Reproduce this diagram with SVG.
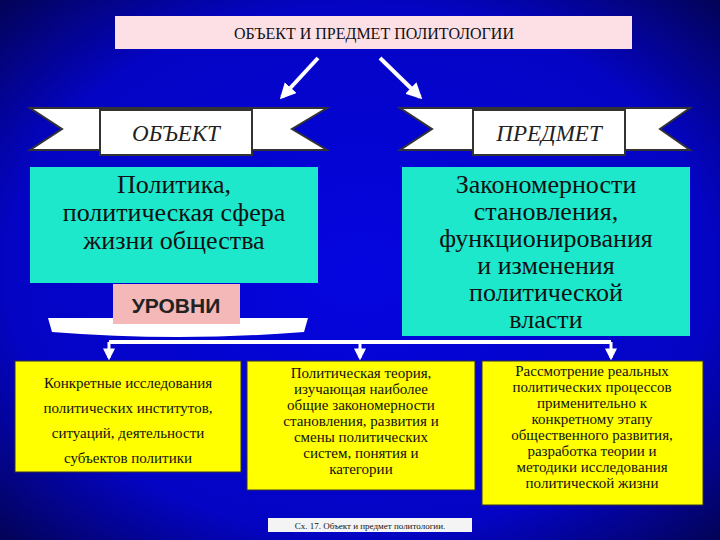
<svg xmlns="http://www.w3.org/2000/svg" width="720" height="540" viewBox="0 0 720 540">
<defs>
<radialGradient id="bg" cx="50%" cy="50%" r="70%">
<stop offset="0" stop-color="#0505e0"/><stop offset="0.7" stop-color="#0404c4"/><stop offset="1" stop-color="#03035a"/>
</radialGradient>
<marker id="ah" viewBox="0 0 10 10" refX="8" refY="5" markerWidth="4" markerHeight="4" orient="auto"><path d="M0,0L10,5L0,10z" fill="#fff"/></marker>
<style>
text{font-family:"Liberation Serif","DejaVu Serif",serif}
.s{text-anchor:middle;fill:#111}
.big{font-size:26px}
.sm{font-size:15px}
.cy{fill:#1ee8cc}
.yl{fill:#ffff00;stroke:#333;stroke-width:1}
.rib{fill:#fff;stroke:#333;stroke-width:2}
.lab{fill:#fff;stroke:#333;stroke-width:2}
.it{font-style:italic;font-size:23px;text-anchor:middle;fill:#222}
</style>
</defs>
<rect width="720" height="540" fill="url(#bg)"/>
<g id="title"><rect x="115" y="16" width="517" height="33" fill="#fde0e6"/><text class="s" x="374" y="39" font-size="16">ОБЪЕКТ И ПРЕДМЕТ ПОЛИТОЛОГИИ</text></g>
<g id="connectors" stroke="#fff" fill="none">
<line x1="318" y1="58" x2="282" y2="97" stroke-width="4" marker-end="url(#ah)"/>
<line x1="380" y1="58" x2="420" y2="97" stroke-width="4" marker-end="url(#ah)"/>
<polyline points="109,342 611,342" stroke-width="4"/>
<line x1="109" y1="342" x2="109" y2="358" stroke-width="3" marker-end="url(#ah)"/>
<line x1="360" y1="342" x2="360" y2="358" stroke-width="3" marker-end="url(#ah)"/>
<line x1="611" y1="342" x2="611" y2="358" stroke-width="3" marker-end="url(#ah)"/>
</g>
<g id="obj">
<path class="rib" d="M30,108H327L292,129L327,150H30L62,129Z"/>
<rect class="lab" x="100" y="110" width="152" height="45"/>
<text class="it" x="176" y="141">ОБЪЕКТ</text>
</g>
<g id="pred">
<path class="rib" d="M400,108H690L660,129L690,150H400L432,129Z"/>
<rect class="lab" x="473" y="110" width="152" height="45"/>
<text class="it" x="549" y="141">ПРЕДМЕТ</text>
</g>
<g id="politika"><rect class="cy" x="30" y="167" width="288" height="116"/>
<text class="s big" x="174" y="193">Политика,</text><text class="s big" x="174" y="221">политическая сфера</text><text class="s big" x="174" y="249">жизни общества</text></g>
<g id="zakon"><rect class="cy" x="402" y="167" width="288" height="169"/>
<text class="s big" x="546" y="193">Закономерности</text><text class="s big" x="546" y="220">становления,</text><text class="s big" x="546" y="247">функционирования</text><text class="s big" x="546" y="274">и изменения</text><text class="s big" x="546" y="301">политической</text><text class="s big" x="546" y="328">власти</text></g>
<g id="urovni">
<path d="M48,318H308L304,332Q178,342 52,332Z" fill="#fff"/>
<rect x="113" y="284" width="127" height="40" fill="#f4b8b8"/>
<text x="176" y="313" style="font-family:'Liberation Sans',Arial,sans-serif" font-weight="bold" font-size="21" text-anchor="middle" fill="#222">УРОВНИ</text>
</g>
<g id="b1"><rect class="yl" x="15" y="361" width="226" height="111"/>
<text class="s sm" x="128" y="388">Конкретные исследования</text><text class="s sm" x="128" y="413">политических институтов,</text><text class="s sm" x="128" y="438">ситуаций, деятельности</text><text class="s sm" x="128" y="463">субъектов политики</text></g>
<g id="b2"><rect class="yl" x="247" y="361" width="228" height="129"/>
<text class="s sm" x="361" y="378">Политическая теория,</text><text class="s sm" x="361" y="394">изучающая наиболее</text><text class="s sm" x="361" y="410">общие закономерности</text><text class="s sm" x="361" y="426">становления, развития и</text><text class="s sm" x="361" y="442">смены политических</text><text class="s sm" x="361" y="458">систем, понятия и</text><text class="s sm" x="361" y="474">категории</text></g>
<g id="b3"><rect class="yl" x="482" y="361" width="221" height="144"/>
<text class="s sm" x="592" y="376">Рассмотрение реальных</text><text class="s sm" x="592" y="392">политических процессов</text><text class="s sm" x="592" y="408">применительно к</text><text class="s sm" x="592" y="424">конкретному этапу</text><text class="s sm" x="592" y="440">общественного развития,</text><text class="s sm" x="592" y="456">разработка теории и</text><text class="s sm" x="592" y="472">методики исследования</text><text class="s sm" x="592" y="488">политической жизни</text></g>
<g id="caption"><rect x="268" y="518" width="204" height="14" fill="#f4f4f4"/><text class="s" x="370" y="529" font-size="9">Сх. 17. Объект и предмет политологии.</text></g>
</svg>
